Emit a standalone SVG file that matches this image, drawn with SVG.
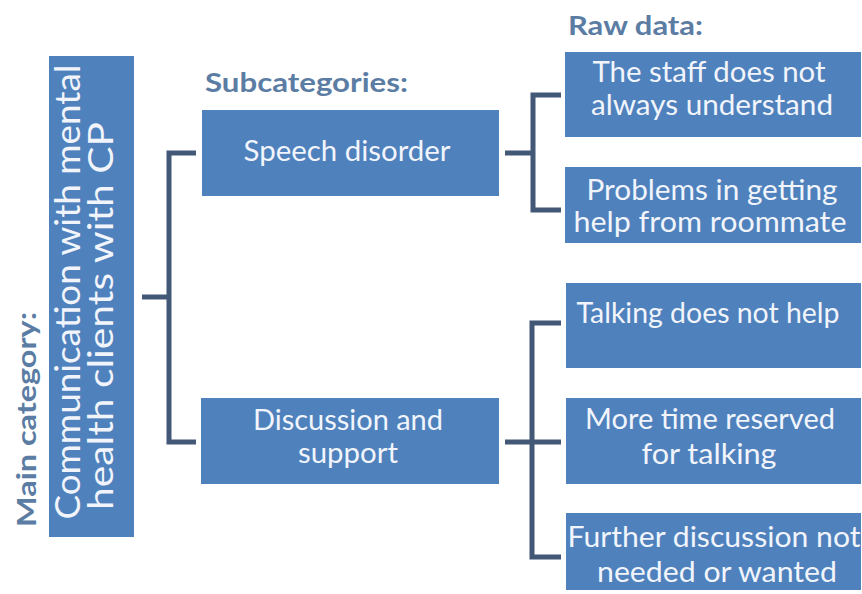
<svg xmlns="http://www.w3.org/2000/svg" width="862" height="594" viewBox="0 0 862 594">
  <style>
    .box { fill: #4f81bd; }
    .txt { font-family: Lato, "Open Sans", "Liberation Sans", sans-serif; fill: #f1f5fb; text-anchor: middle; }
    .main { font-size: 35px; }
    .body { font-size: 29px; }
    .label { font-family: Lato, "Open Sans", "Liberation Sans", sans-serif; fill: #5b7ca3; font-weight: bold; font-size: 26px; }
    .link { fill: none; stroke: #435877; stroke-width: 5; stroke-linejoin: miter; stroke-linecap: butt; }
  </style>
  <rect width="862" height="594" fill="#ffffff"/>

  <!-- column headings -->
  <text class="label" transform="rotate(-90)" x="-527" y="36" textLength="215" lengthAdjust="spacingAndGlyphs">Main category:</text>
  <text class="label" x="205" y="92" textLength="203" lengthAdjust="spacingAndGlyphs">Subcategories:</text>
  <text class="label" x="568" y="35" textLength="135" lengthAdjust="spacingAndGlyphs">Raw data:</text>

  <!-- connectors -->
  <g id="connectors">
    <path class="link" d="M142,297 H169"/>
    <path class="link" d="M196,153 H169 V442 H196"/>
    <path class="link" d="M505,153 H533"/>
    <path class="link" d="M561,95 H533 V210 H561"/>
    <path class="link" d="M505,442 H561"/>
    <path class="link" d="M561,323 H532 V557 H561"/>
  </g>

  <!-- main category -->
  <g id="main-category">
    <rect class="box" x="49" y="56" width="85" height="481"/>
    <text class="txt main" transform="rotate(-90)" x="-292" y="80" textLength="455" lengthAdjust="spacingAndGlyphs">Communication with mental</text>
    <text class="txt main" transform="rotate(-90)" x="-316" y="113" textLength="388" lengthAdjust="spacingAndGlyphs">health clients with CP</text>
  </g>

  <!-- subcategories -->
  <g id="speech-disorder">
    <rect class="box" x="202" y="110" width="297" height="86"/>
    <text class="txt body" x="347" y="161" textLength="207" lengthAdjust="spacingAndGlyphs">Speech disorder</text>
  </g>
  <g id="discussion-support">
    <rect class="box" x="201" y="398" width="298" height="86"/>
    <text class="txt body" x="348" y="430" textLength="190" lengthAdjust="spacingAndGlyphs">Discussion and</text>
    <text class="txt body" x="348" y="463" textLength="100" lengthAdjust="spacingAndGlyphs">support</text>
  </g>

  <!-- raw data -->
  <g id="staff-understand">
    <rect class="box" x="565" y="52" width="296" height="85"/>
    <text class="txt body" x="709" y="82" textLength="233" lengthAdjust="spacingAndGlyphs">The staff does not</text>
    <text class="txt body" x="712" y="115" textLength="242" lengthAdjust="spacingAndGlyphs">always understand</text>
  </g>
  <g id="roommate-help">
    <rect class="box" x="565" y="167" width="296" height="76"/>
    <text class="txt body" x="712" y="200" textLength="251" lengthAdjust="spacingAndGlyphs">Problems in getting</text>
    <text class="txt body" x="710" y="232" textLength="273" lengthAdjust="spacingAndGlyphs">help from roommate</text>
  </g>
  <g id="talking-not-help">
    <rect class="box" x="566" y="283" width="295" height="85"/>
    <text class="txt body" x="708" y="323" textLength="263" lengthAdjust="spacingAndGlyphs">Talking does not help</text>
  </g>
  <g id="more-time">
    <rect class="box" x="566" y="398" width="295" height="86"/>
    <text class="txt body" x="710" y="429" textLength="250" lengthAdjust="spacingAndGlyphs">More time reserved</text>
    <text class="txt body" x="709" y="464" textLength="135" lengthAdjust="spacingAndGlyphs">for talking</text>
  </g>
  <g id="further-discussion">
    <rect class="box" x="566" y="513" width="295" height="77"/>
    <text class="txt body" x="714" y="547" textLength="293" lengthAdjust="spacingAndGlyphs">Further discussion not</text>
    <text class="txt body" x="717" y="582" textLength="240" lengthAdjust="spacingAndGlyphs">needed or wanted</text>
  </g>
</svg>
